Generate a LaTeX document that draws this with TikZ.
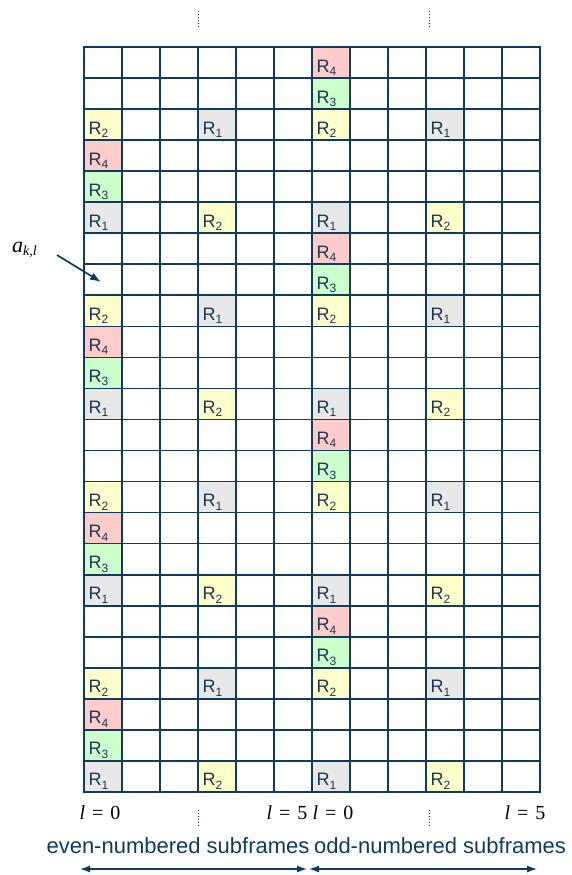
\documentclass[tikz,border=0pt]{standalone}
\usepackage{fontspec}
\setmainfont{Liberation Sans}
\newfontfamily\tms{Liberation Serif}
\usetikzlibrary{arrows.meta}
\definecolor{gridc}{RGB}{16,58,94}
\definecolor{txtc}{RGB}{30,52,80}
\definecolor{rfour}{RGB}{255,204,204}
\definecolor{rthree}{RGB}{204,255,204}
\definecolor{rtwo}{RGB}{255,255,204}
\definecolor{rone}{RGB}{232,232,232}
\newcommand\putcell[4]{%
  \fill[#3] ({84+38*#1},{47+31.04*#2}) rectangle ++(38,31.04);
  \node[celltxt] (c-#1-#2) at ({84+38*#1+4.5},{47+31.04*#2+25}) {R\raisebox{-3.5pt}{\fontsize{12}{12}\selectfont #4}};}
\begin{document}
\begin{tikzpicture}[x=1pt,y=-1pt,
  celltxt/.style={text=txtc,font=\fontsize{18}{18}\selectfont,inner sep=0pt,anchor=base west},
  gridline/.style={draw=gridc,line width=1.7pt,line cap=rect},
  markline/.style={draw=gridc,dotted,line width=1pt},
  lbl/.style={text=black,font=\tms\fontsize{20}{21}\selectfont,inner sep=0pt,anchor=base},
  subtxt/.style={text=gridc,font=\fontsize{22}{23}\selectfont,inner sep=0pt,anchor=base},
  spanarrow/.style={draw=gridc,line width=1.3pt,{Latex[length=10pt,width=7pt]}-{Latex[length=10pt,width=7pt]}},
  pointarrow/.style={draw=gridc,line width=1.7pt,-{Latex[length=11pt,width=8pt]}}]
\useasboundingbox (0,0) rectangle (571,875);
% cells
\foreach \b in {0,...,3}{
  \pgfmathtruncatemacro\ra{6*\b}
  \pgfmathtruncatemacro\rb{6*\b+1}
  \pgfmathtruncatemacro\rc{6*\b+2}
  \pgfmathtruncatemacro\rd{6*\b+3}
  \pgfmathtruncatemacro\re{6*\b+4}
  \pgfmathtruncatemacro\rf{6*\b+5}
  \putcell{6}{\ra}{rfour}{4}
  \putcell{6}{\rb}{rthree}{3}
  \putcell{0}{\rc}{rtwo}{2}
  \putcell{3}{\rc}{rone}{1}
  \putcell{6}{\rc}{rtwo}{2}
  \putcell{9}{\rc}{rone}{1}
  \putcell{0}{\rd}{rfour}{4}
  \putcell{0}{\re}{rthree}{3}
  \putcell{0}{\rf}{rone}{1}
  \putcell{3}{\rf}{rtwo}{2}
  \putcell{6}{\rf}{rone}{1}
  \putcell{9}{\rf}{rtwo}{2}
}
% grid
\foreach \c in {0,...,12} \draw[gridline] ({84+38*\c},47) -- ({84+38*\c},792);
\foreach \r in {0,...,24} \draw[gridline] (84,{47+31.04*\r}) -- (540,{47+31.04*\r});
% dotted marks
\draw[markline] (198,11) -- (198,27);
\draw[markline] (429,11) -- (429,27);
\draw[markline] (198,810) -- (198,826);
\draw[markline] (429,810) -- (429,826);
% a_{k,l}
\node[lbl,anchor=base west,font=\tms\fontsize{22}{23}\selectfont] (akl) at (12,252) {\itshape a\raisebox{-3pt}{\fontsize{14}{14}\selectfont k,l}};
\coordinate (astart) at (57,255);
\coordinate (aend) at (101,282);
\draw[pointarrow] (astart) -- (aend);
% l labels
\node[lbl] (l0a) at (100,819) {\itshape l\upshape\hspace{7pt}=\hspace{7pt}0};
\node[lbl] (l5a) at (287,819) {\itshape l\upshape\hspace{7pt}=\hspace{7pt}5};
\node[lbl] (l0b) at (333,819) {\itshape l\upshape\hspace{7pt}=\hspace{7pt}0};
\node[lbl] (l5b) at (525,819) {\itshape l\upshape\hspace{7pt}=\hspace{7pt}5};
% subframe texts
\node[subtxt] (even) at (178,853) {even-numbered subframes};
\node[subtxt] (odd) at (440,853) {odd-numbered subframes};
\coordinate (aleft) at (80,869);
\coordinate (amid) at (307,869);
\coordinate (amidb) at (309,869);
\coordinate (aright) at (537,869);
\draw[spanarrow] (aleft) -- (amid);
\draw[spanarrow] (amidb) -- (aright);
\end{tikzpicture}
\end{document}
